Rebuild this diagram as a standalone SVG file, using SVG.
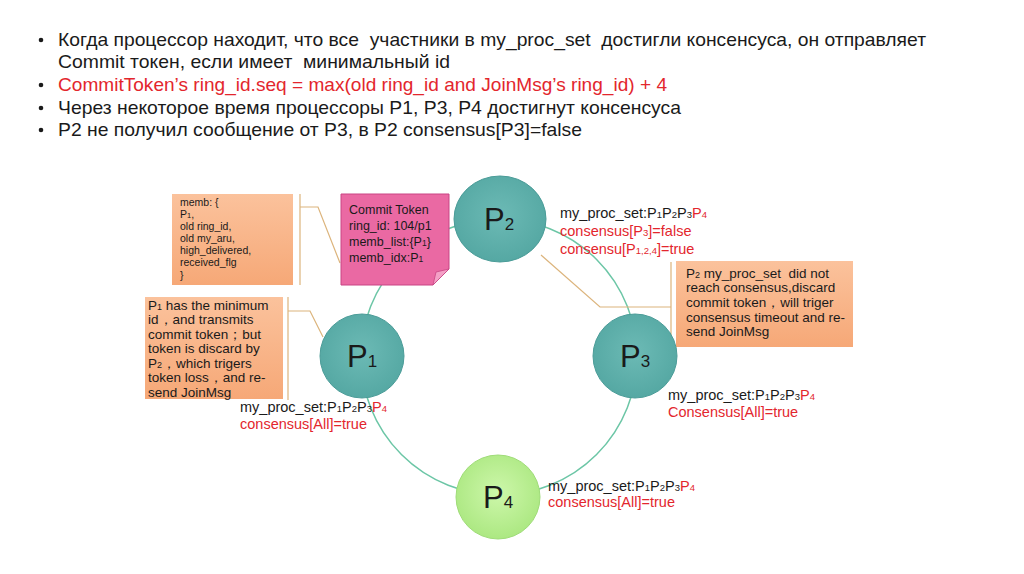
<svg xmlns="http://www.w3.org/2000/svg" width="1024" height="574" viewBox="0 0 1024 574">
<style>
text{font-family:"Liberation Sans",Arial,sans-serif;fill:#1a1a1a}
.bul{font-size:19px;white-space:pre}
.red{fill:#e3262d}
.st{font-size:14.5px}
.box{font-size:13.5px}
.small{font-size:10.5px}
.ct{font-size:12.5px}
.node{stroke-width:1}
.lbl{font-size:31px}
.lsub{font-size:17px}
.conn{fill:none;stroke:#dcb47c;stroke-width:1.2}
.ring{fill:none;stroke:#6cc6a6;stroke-width:1.5}
</style>
<defs>
<radialGradient id="teal" cx="50%" cy="45%" r="55%">
<stop offset="0" stop-color="#6cbab5"/>
<stop offset="1" stop-color="#55a8a3"/>
</radialGradient>
<radialGradient id="lime" cx="50%" cy="45%" r="55%">
<stop offset="0" stop-color="#cdf7aa"/>
<stop offset="1" stop-color="#ace882"/>
</radialGradient>
<linearGradient id="peach" x1="0" y1="0" x2="0" y2="1">
<stop offset="0" stop-color="#fbc29c"/>
<stop offset="1" stop-color="#f6a877"/>
</linearGradient>
</defs>
<rect width="1024" height="574" fill="#ffffff"/>

<g id="bullets">
<circle cx="41" cy="40" r="2.3" fill="#1a1a1a"/>
<text class="bul" x="58" y="46" textLength="868" lengthAdjust="spacingAndGlyphs">Когда процессор находит, что все  участники в my_proc_set  достигли консенсуса, он отправляет</text>
<text class="bul" x="58" y="68" textLength="392" lengthAdjust="spacingAndGlyphs">Commit токен, если имеет  минимальный id</text>
<circle cx="41" cy="85" r="2.3" fill="#1a1a1a"/>
<text class="bul red" x="58" y="91" textLength="609" lengthAdjust="spacingAndGlyphs">CommitToken’s ring_id.seq = max(old ring_id and JoinMsg’s ring_id) + 4</text>
<circle cx="41" cy="108" r="2.3" fill="#1a1a1a"/>
<text class="bul" x="58" y="114" textLength="623" lengthAdjust="spacingAndGlyphs">Через некоторое время процессоры P1, P3, P4 достигнут консенсуса</text>
<circle cx="41" cy="130" r="2.3" fill="#1a1a1a"/>
<text class="bul" x="58" y="136" textLength="524" lengthAdjust="spacingAndGlyphs">P2 не получил сообщение от P3, в P2 consensus[P3]=false</text>
</g>

<g id="connectors">
<circle class="ring" cx="499" cy="357" r="138"/>
<path class="conn" d="M300,194 V285 M300,207 H318 L340,263"/>
<path class="conn" d="M288,297 V400 M288,311 H310 L323,337"/>
<path class="conn" d="M671,262 V346 M671,307 H600 L541,255"/>
</g>

<g id="memb">
<rect x="172" y="194" width="121" height="91" fill="url(#peach)"/>
<text class="small" x="180" y="206">memb: {</text>
<text class="small" x="180" y="218">P<tspan font-size="7.5">1</tspan>,</text>
<text class="small" x="180" y="230">old ring_id,</text>
<text class="small" x="180" y="242">old my_aru,</text>
<text class="small" x="180" y="254">high_delivered,</text>
<text class="small" x="180" y="266">received_flg</text>
<text class="small" x="180" y="279">}</text>
</g>

<g id="commit-token">
<path d="M341,194 H449 V269 L433,285 H341 Z" fill="#ea69a3" stroke="#c94584" stroke-width="1"/>
<path d="M449,269 L433,285 L436,272 Z" fill="#f4a0c6" stroke="#c94584" stroke-width="0.8"/>
<text class="ct" x="349" y="214">Commit Token</text>
<text class="ct" x="349" y="230">ring_id: 104/p1</text>
<text class="ct" x="349" y="246">memb_list:{P<tspan font-size="8.5">1</tspan>}</text>
<text class="ct" x="349" y="262">memb_idx:P<tspan font-size="8.5">1</tspan></text>
</g>

<g id="p1-note">
<rect x="145" y="297" width="138" height="102" fill="url(#peach)"/>
<text class="box" x="148" y="310">P<tspan font-size="9">1</tspan> has the minimum</text>
<text class="box" x="148" y="324">id，and transmits</text>
<text class="box" x="148" y="339">commit token；but</text>
<text class="box" x="148" y="353">token is discard by</text>
<text class="box" x="148" y="368">P<tspan font-size="9">2</tspan>，which trigers</text>
<text class="box" x="148" y="382">token loss，and re-</text>
<text class="box" x="148" y="397">send JoinMsg</text>
</g>

<g id="p3-note">
<rect x="676" y="261" width="177" height="86" fill="url(#peach)"/>
<text class="box" x="686" y="278" style="white-space:pre">P<tspan font-size="9">2</tspan> my_proc_set  did not</text>
<text class="box" x="686" y="292">reach consensus,discard</text>
<text class="box" x="686" y="307">commit token，will triger</text>
<text class="box" x="686" y="322">consensus timeout and re-</text>
<text class="box" x="686" y="336">send JoinMsg</text>
</g>

<g id="P2">
<ellipse class="node" cx="500" cy="219" rx="46" ry="43" fill="url(#teal)" stroke="#4b9c98"/>
<text x="484" y="230"><tspan class="lbl">P</tspan><tspan class="lsub">2</tspan></text>
<text class="st" x="560" y="218">my_proc_set:P<tspan font-size="9.5">1</tspan>P<tspan font-size="9.5">2</tspan>P<tspan font-size="9.5">3</tspan><tspan class="red">P</tspan><tspan class="red" font-size="9.5">4</tspan></text>
<text class="st red" x="560" y="236">consensus[P<tspan font-size="9.5">3</tspan>]=false</text>
<text class="st red" x="560" y="254">consensu[P<tspan font-size="9.5">1,2,4</tspan>]=true</text>
</g>

<g id="P1">
<circle class="node" cx="362" cy="356" r="42" fill="url(#teal)" stroke="#4b9c98"/>
<text x="347" y="367"><tspan class="lbl">P</tspan><tspan class="lsub">1</tspan></text>
<text class="st" x="240" y="412">my_proc_set:P<tspan font-size="9.5">1</tspan>P<tspan font-size="9.5">2</tspan>P<tspan font-size="9.5">3</tspan><tspan class="red">P</tspan><tspan class="red" font-size="9.5">4</tspan></text>
<text class="st red" x="240" y="429">consensus[All]=true</text>
</g>

<g id="P3">
<circle class="node" cx="635" cy="356" r="42" fill="url(#teal)" stroke="#4b9c98"/>
<text x="620" y="367"><tspan class="lbl">P</tspan><tspan class="lsub">3</tspan></text>
<text class="st" x="668" y="400">my_proc_set:P<tspan font-size="9.5">1</tspan>P<tspan font-size="9.5">2</tspan>P<tspan font-size="9.5">3</tspan><tspan class="red">P</tspan><tspan class="red" font-size="9.5">4</tspan></text>
<text class="st red" x="668" y="417">Consensus[All]=true</text>
</g>

<g id="P4">
<circle class="node" cx="498" cy="497" r="42" fill="url(#lime)" stroke="#9fdc78"/>
<text x="483" y="508"><tspan class="lbl">P</tspan><tspan class="lsub">4</tspan></text>
<text class="st" x="548" y="491">my_proc_set:P<tspan font-size="9.5">1</tspan>P<tspan font-size="9.5">2</tspan>P<tspan font-size="9.5">3</tspan><tspan class="red">P</tspan><tspan class="red" font-size="9.5">4</tspan></text>
<text class="st red" x="548" y="507">consensus[All]=true</text>
</g>
</svg>
